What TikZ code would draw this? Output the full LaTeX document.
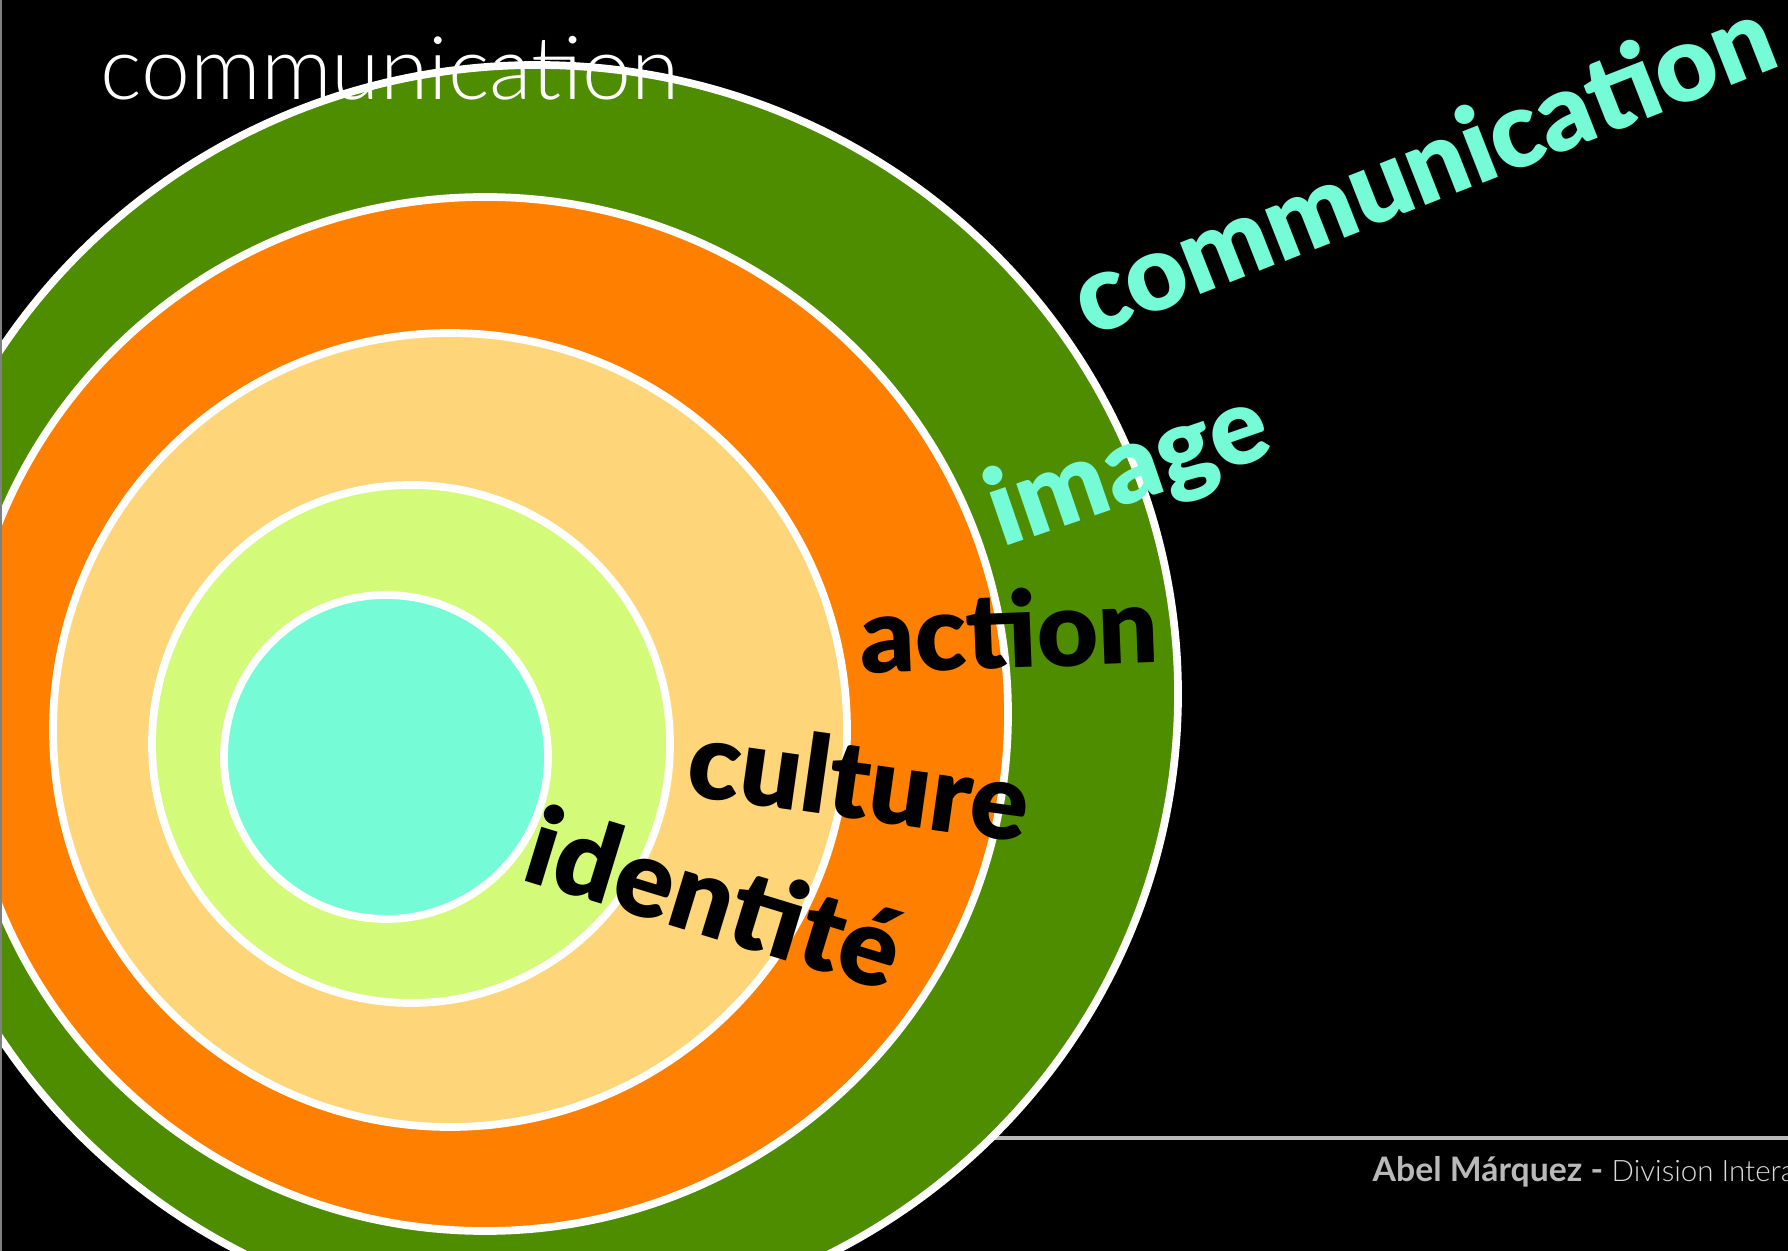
\documentclass[tikz,border=0pt]{standalone}
\usepackage{fontspec}
\setmainfont{Lato}
\newfontfamily\thinfont{Lato Light}
\newfontfamily\heavyfont{Lato Black}
\definecolor{fern}{RGB}{78, 140, 0}
\definecolor{tangerine}{RGB}{255, 127, 0}
\definecolor{cantaloupe}{RGB}{255, 213, 122}
\definecolor{honeydew}{RGB}{212, 250, 121}
\definecolor{spindrift}{RGB}{117, 252, 215}
\definecolor{silver}{RGB}{185, 185, 185}
\definecolor{mist}{RGB}{220, 220, 220}
\tikzset{
    ring/.style={draw=white, line width=2.2pt},
    layer/.style={font=\heavyfont\fontsize{#1}{#1}\selectfont, inner sep=0pt, anchor=base west}
}

\begin{document}
\begin{tikzpicture}
            % Slide
            \clip                                  ( 0.00, 0.00) rectangle (17.88,-12.51);
            \fill[black]                           ( 0.00, 0.00) rectangle (17.88,-12.51);
            \draw[silver, line width=0.9pt]        ( 9.00,-11.38) -- (17.88,-11.38);
            % Rings, outside in
            \filldraw[ring, fill=fern]             ( 5.37,-6.94) ellipse (6.41 and 6.29);
            \filldraw[ring, fill=tangerine]        ( 4.85,-7.14) ellipse (5.23 and 5.17);
            \filldraw[ring, fill=cantaloupe]       ( 4.50,-7.30) circle (3.97);
            \filldraw[ring, fill=honeydew]         ( 4.11,-7.44) circle (2.59);
            \filldraw[ring, fill=spindrift]        ( 3.86,-7.57) circle (1.62);
            % Ring names
            \node[layer=30.3, spindrift, rotate=21.5] (communication) at (10.90,-3.38) {communication};
            \node[layer=30.5, spindrift, rotate=19]   (image)         at (10.02,-5.48) {image};
            \node[layer=30,   rotate=2.2]             (action)        at ( 8.61,-6.74) {action};
            \node[layer=30.6, rotate=-8]              (culture)       at ( 6.84,-7.95) {culture};
            \node[layer=31,   rotate=-17]             (identite)      at ( 5.19,-8.79) {identité};
            % Title & footer
            \node[white, font=\thinfont\fontsize{25}{30}\selectfont, inner sep=0pt, anchor=base west]
                 (title) at ( 1.00,-1.00) {communication};
            \node[silver, font=\fontsize{9.6}{11}\selectfont, inner sep=0pt, anchor=base west]
                 (footer) at (13.72,-11.81) {\textbf{Abel Márquez -} \textcolor{mist}{\thinfont\fontsize{8.4}{11}\selectfont Division Intera}};
            \draw[gray, line width=0.8pt]          ( 0.01, 0.00) -- ( 0.01,-12.51);
        \end{tikzpicture}
\end{document}
